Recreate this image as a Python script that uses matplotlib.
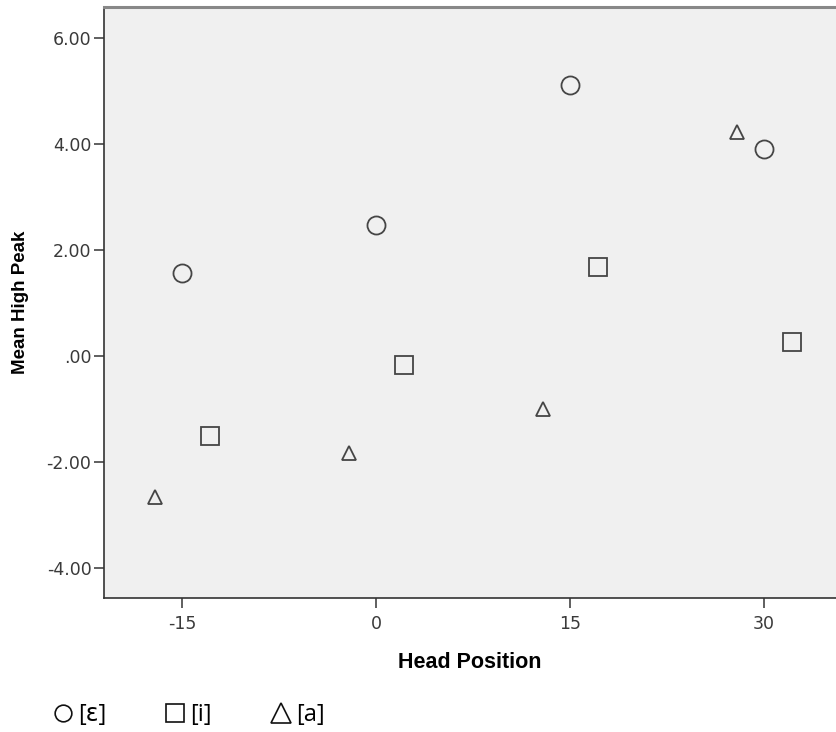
import matplotlib.pyplot as plt
from matplotlib.lines import Line2D

# head position (x) and mean high peak (y) per vowel
vowels = ['[ɛ]', '[i]', '[a]']
markers = ['o', 's', '^']
sizes = [13, 13, 10.5]

x_e = [-15, 0, 15, 30]
y_e = [1.56, 2.47, 5.11, 3.91]

x_i = [-12.83, 2.17, 17.17, 32.17]
y_i = [-1.51, -0.17, 1.68, 0.26]

x_a = [-17.1, -2.1, 12.9, 27.9]
y_a = [-2.66, -1.83, -1.0, 4.23]

xticks = [-15, 0, 15, 30]
yticks = [-4, -2, 0, 2, 4, 6]
ytick_labels = ['-4.00', '-2.00', '.00', '2.00', '4.00', '6.00']

plt.rcParams['font.family'] = ['Liberation Sans', 'DejaVu Sans']

fig = plt.figure(figsize=(8.36, 7.32), dpi=100)
ax = fig.add_axes([0.1244, 0.1831, 0.8756, 0.8074])
ax.set_facecolor('#f0f0f0')

edge = '#454545'
for xs, ys, m, s in zip([x_e, x_i, x_a], [y_e, y_i, y_a], markers, sizes):
    ax.plot(xs, ys, linestyle='none', marker=m, markersize=s,
            markerfacecolor='none', markeredgecolor=edge, markeredgewidth=1.3)

ax.set_xlim(-21.03, 35.57)
ax.set_ylim(-4.566, 6.585)
ax.set_xticks(xticks)
ax.set_xticklabels([str(t) for t in xticks])
ax.set_yticks(yticks)
ax.set_yticklabels(ytick_labels)
ax.tick_params(direction='out', length=7, width=1.2, colors='#444444',
               labelsize=12.5, labelcolor='#3a3a3a', pad=2)
ax.tick_params(axis='x', pad=5)
for lbl in ax.get_xticklabels() + ax.get_yticklabels():
    lbl.set_family('DejaVu Sans')

ax.spines['right'].set_visible(False)
ax.spines['top'].set_color('#888888')
ax.spines['top'].set_linewidth(2.2)
ax.spines['left'].set_color('#333333')
ax.spines['bottom'].set_color('#333333')
ax.spines['left'].set_linewidth(1.2)
ax.spines['bottom'].set_linewidth(1.2)

ax.set_xlabel('Head Position', fontsize=15.5, fontweight='bold', labelpad=14)
ax.set_ylabel('Mean High Peak', fontsize=13.5, fontweight='bold', labelpad=13)

handles = [Line2D([], [], linestyle='none', marker=m, markersize=ms,
                  markerfacecolor='none', markeredgecolor='#111111',
                  markeredgewidth=1.2) for m, ms in zip(markers, [12, 13, 15])]
fig.legend(handles, vowels, loc='lower left', bbox_to_anchor=(0.036, -0.022),
           ncol=3, frameon=False, handletextpad=0.15, columnspacing=2.4,
           handlelength=1.0,
           prop={'family': ['Open Sans', 'DejaVu Sans'], 'size': 17})

fig.savefig('out.png', dpi=100)
